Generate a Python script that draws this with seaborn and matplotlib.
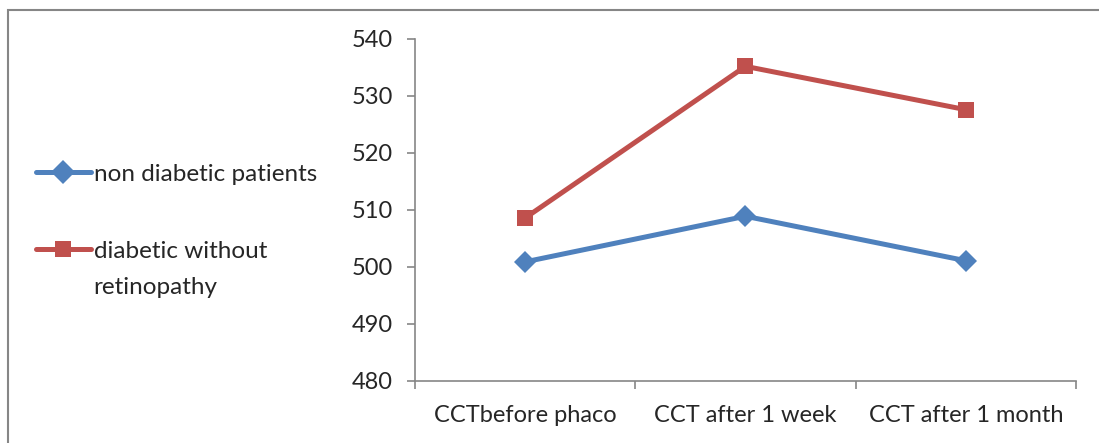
import pandas as pd
import numpy as np
import matplotlib.pyplot as plt
import seaborn as sns
from matplotlib.patches import Rectangle

# values
stages = ["CCTbefore phaco", "CCT after 1 week", "CCT after 1 month"]
non_diabetic = [500.9, 508.9, 501.1]
diabetic_no_retino = [508.6, 535.2, 527.6]
series_names = ["non diabetic patients", "diabetic without retinopathy"]

df = pd.DataFrame({
    "stage": stages * 2,
    "pos": list(range(len(stages))) * 2,
    "CCT": non_diabetic + diabetic_no_retino,
    "group": [series_names[0]] * 3 + [series_names[1]] * 3,
})

sns.set_theme(style="white")
plt.rcParams['font.family'] = ['Lato', 'DejaVu Sans']

fig = plt.figure(figsize=(10.99, 4.43), dpi=100)
ax = fig.add_axes([0.3776, 0.14, 0.6014, 0.772])

palette = {series_names[0]: "#4F81BD", series_names[1]: "#C0504D"}
sns.lineplot(
    data=df, x="pos", y="CCT", hue="group", style="group",
    palette=palette, markers={series_names[0]: "D", series_names[1]: "s"},
    dashes=False, linewidth=3.6, markersize=11, markeredgewidth=0,
    ax=ax, legend=True,
)

ax.set_xlim(-0.5, 2.5)
ax.set_ylim(480, 540)
ax.set_yticks(np.arange(480, 541, 10))
ax.set_xticks(range(len(stages)))
ax.set_xticklabels(stages)
ax.set_xticks(np.arange(-0.5, 2.6, 1), minor=True)
ax.set_xlabel("")
ax.set_ylabel("")

for s in ["top", "right"]:
    ax.spines[s].set_visible(False)
for s in ["left", "bottom"]:
    ax.spines[s].set_color("#868686")
    ax.spines[s].set_linewidth(1.2)

ax.tick_params(axis="y", which="major", left=True, length=6, width=1.2,
               color="#868686", labelsize=17, pad=10)
ax.tick_params(axis="x", which="major", bottom=False, labelsize=17, pad=11)
ax.tick_params(axis="x", which="minor", bottom=True, length=6, width=1.2,
               color="#868686")

# legend: long label wraps, handle sits on the first line like the original
handles, labels = ax.get_legend_handles_labels()
ax.get_legend().remove()
for h in handles:
    h.set_markersize(12)
first_lines = ["non diabetic patients", "diabetic without"]
leg = fig.legend(handles, first_lines, loc="upper left",
                 bbox_to_anchor=(0.024, 0.652), frameon=False, fontsize=17.5,
                 handlelength=2.25, handletextpad=0.12,
                 labelspacing=2.3, borderaxespad=0)

fig.canvas.draw()
bb = leg.get_texts()[1].get_window_extent()
fig.text(bb.x0 / 1099, (bb.y0 - 36) / 443, "retinopathy", fontsize=17.5,
         ha="left", va="bottom")

# outer chart border (partly cropped in the reference)
fig.patches.append(Rectangle((8 / 1099, -0.1), 1.2, 1 - 9.5 / 443 + 0.1,
                             transform=fig.transFigure, fill=False,
                             edgecolor="#868686", linewidth=1.5))

fig.savefig("out.png", dpi=100)
